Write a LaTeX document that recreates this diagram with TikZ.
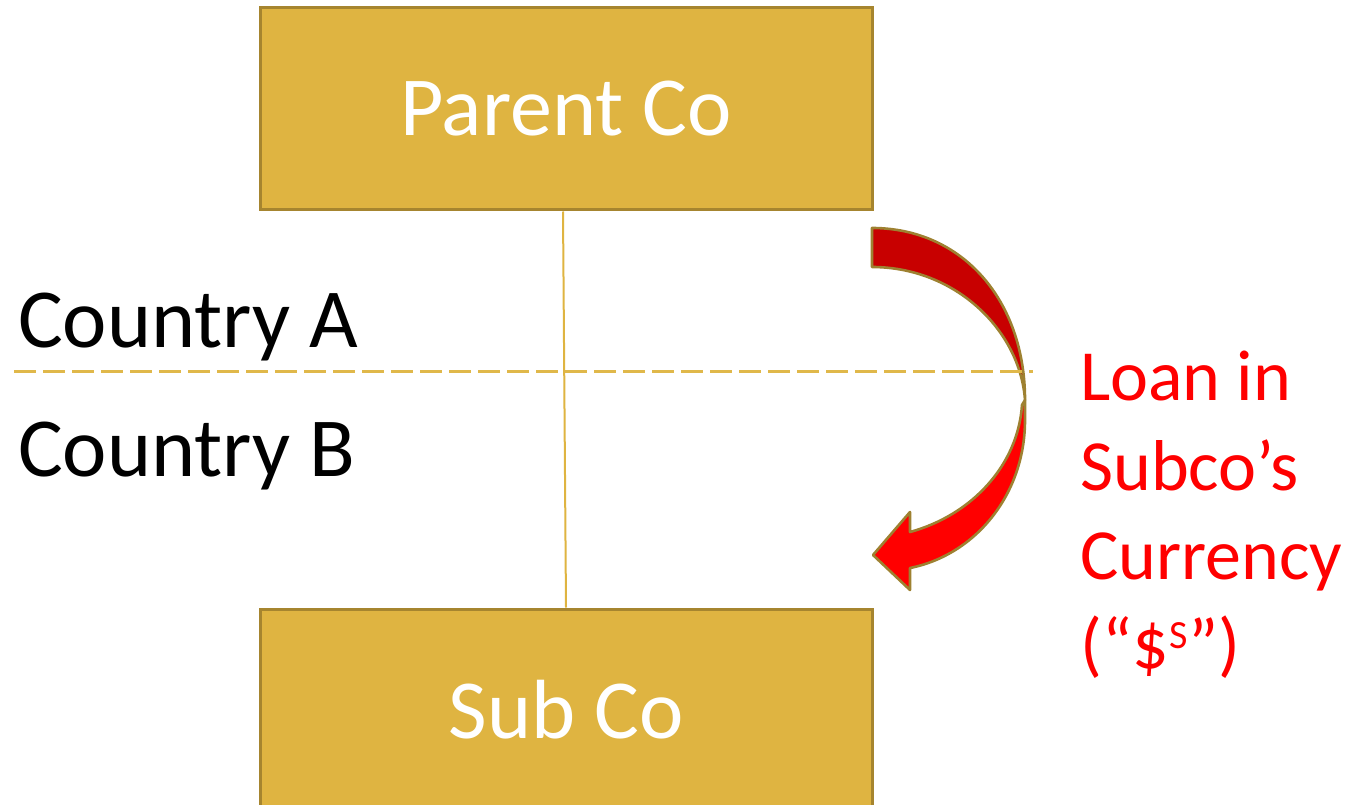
\documentclass[tikz,border=0pt]{standalone}
\usepackage{fontspec}
\setmainfont{Carlito}
\definecolor{goldfill}{HTML}{DFB441}
\definecolor{goldline}{HTML}{A6852F}
\definecolor{dashgold}{HTML}{E0B84A}
\definecolor{darkred}{HTML}{C80000}
\definecolor{arrowline}{HTML}{9E8131}
\tikzset{
  box/.style={draw=goldline, fill=goldfill, line width=3pt, minimum width=612pt, minimum height=202pt, text=white, font=\fontsize{84}{100}\selectfont, inner sep=0pt},
  conn/.style={draw=goldfill, line width=2pt},
  divider/.style={draw=dashgold, line width=3pt, dash pattern=on 22pt off 7pt},
  country/.style={font=\fontsize{84}{100}\selectfont, anchor=base west, inner sep=0pt},
  loantext/.style={text=red, font=\fontsize{72}{89.3}\selectfont, align=left, anchor=north west, inner sep=0pt},
  arrowpart/.style={draw=arrowline, line width=2.6pt, line join=round}
}
\begin{document}
\begin{tikzpicture}[x=1pt, y=-1pt]
\useasboundingbox (0,0) rectangle (1357,805);
\begin{scope}
\clip (0,0) rectangle (1357,805);
\node[box] (parent) at (566,109) {Parent Co};
\node[box] (sub) at (566,710) {Sub Co};
\draw[conn] ([xshift=-3pt]parent.south) -- (sub.north);
\node[country] (ca) at (18,347) {Country A};
\node[country] (cb) at (18,476) {Country B};
% curved arrow: back (dark) part
\draw[arrowpart, fill=darkred] (872,228) .. controls (962,228) and (1025,300) .. (1025,400)
  .. controls (1020,330) and (955,267) .. (872,267) -- cycle;
% front (bright) part with head
\draw[arrowpart, fill=red] (1025,400) -- (1025,420) .. controls (1025,495) and (975,555) .. (910,568)
  -- (910,590) -- (873,555) -- (910,512) -- (910,532)
  .. controls (972,515) and (1018,465) .. (1022,405) -- cycle;
\coordinate (dl) at (14,371);
\coordinate (dr) at (1033,371);
\draw[divider] (dl) -- (dr);
\node[loantext] (loan) at (1080,351) {Loan in\\Subco’s\\Currency\\(“\$\kern1pt\raisebox{20pt}{\fontsize{40}{40}\selectfont S}”)};
\end{scope}
\end{tikzpicture}
\end{document}
